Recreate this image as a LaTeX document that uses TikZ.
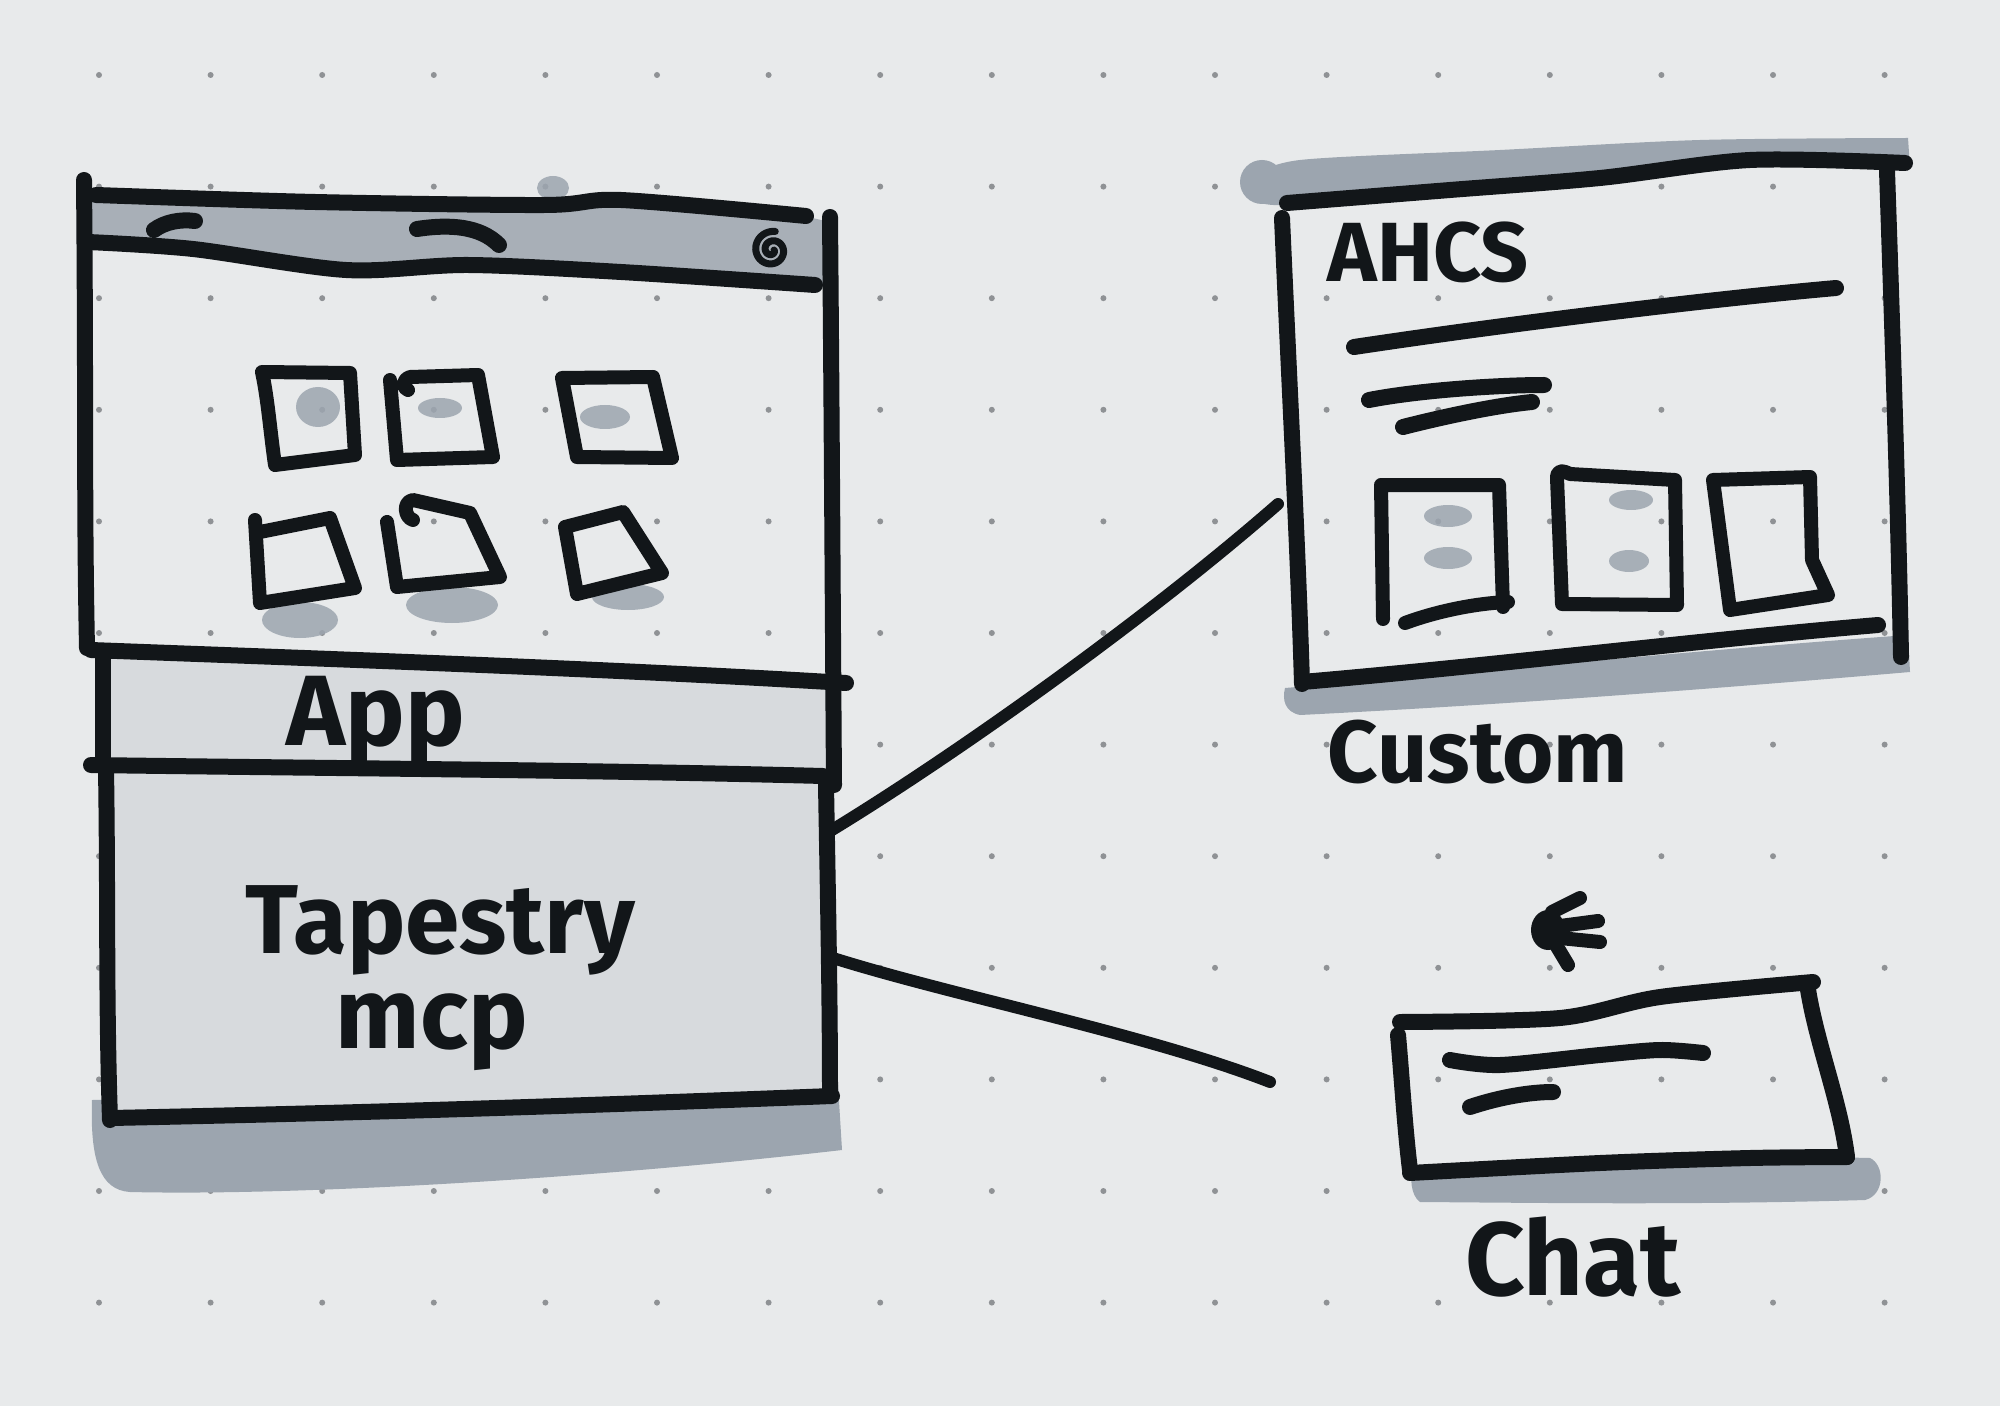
\documentclass[tikz,border=0pt]{standalone}
\usepackage{fontspec}
\setmainfont{Fira Sans}
\definecolor{paper}{HTML}{E8EAEB}
\definecolor{inkc}{HTML}{121619}
\definecolor{barc}{HTML}{A8AFB7}
\definecolor{shadec}{HTML}{9CA5AF}
\definecolor{lightc}{HTML}{D7DADD}
\definecolor{dotc}{HTML}{8F9295}
\tikzset{
  ink/.style={draw=inkc, line width=8pt, line cap=round, line join=round},
  inksq/.style={draw=inkc, line width=7pt, line cap=round, line join=round},
  conn/.style={draw=inkc, line width=6pt, line cap=round},
  shade/.style={fill=shadec},
  blob/.style={fill=shadec, fill opacity=0.85},
  lbl/.style={text=inkc, inner sep=0pt},
}
\begin{document}
\begin{tikzpicture}[x=0.5pt,y=-0.5pt]
\useasboundingbox (0,0) rectangle (2000,1406);
\fill[paper] (0,0) rectangle (2000,1406);
% dot grid
\foreach \i in {0,...,16}{\foreach \j in {0,...,11}{\fill[dotc] ({99+111.6*\i},{75+111.6*\j}) circle (1.5pt);}}

% ================= LEFT WINDOW =================
\fill[blob] (553,188) ellipse (16 and 12);
% title bar fill
\fill[barc] plot[smooth] coordinates {(92,196) (315,203) (545,205) (621,200) (808,217)} -- (830,222) -- (830,287) -- plot[smooth] coordinates {(815,286) (621,273) (468,266) (346,271) (193,249) (88,241)} -- cycle;
% app band fill
\fill[lightc] (95,655) -- (830,680) -- (828,776) -- (95,766) -- cycle;
% tapestry shadow
\fill[shade] (92,1100) -- (838,1085) -- (842,1150) .. controls (600,1178) and (300,1196) .. (130,1192) .. controls (100,1190) and (90,1160) .. cycle;
% tapestry fill
\fill[lightc] (104,770) -- (826,778) -- (830,1097) -- (110,1117) -- cycle;
% frame
\draw[ink] (84,180) .. controls (86,400) and (84,500) .. (87,648);
\draw[ink] (830,217) .. controls (832,450) and (833,650) .. (834,785);
\draw[ink] plot[smooth] coordinates {(96,195) (315,202) (545,205) (621,200) (806,216)};
\draw[ink] plot[smooth] coordinates {(88,242) (193,249) (346,270) (468,265) (621,272) (815,285)};
% title bar icons
\draw[ink] (154,230) .. controls (165,222) and (180,219) .. (195,221);
\draw[ink] (417,229) .. controls (450,224) and (480,226) .. (499,245);
\draw[draw=inkc, line width=3.5pt, line cap=round] plot[domain=0:640, samples=80, smooth] ({772+(2+\x/38)*cos(\x)},{250+(2+\x/38)*sin(\x)});
% squares row 1
\fill[blob] (318,407) ellipse (22 and 20);
\fill[blob] (440,408) ellipse (22 and 10);
\fill[blob] (605,417) ellipse (25 and 12);
\draw[inksq] (262,372) -- (350,373) -- (355,455) -- (275,465) .. controls (270,430) and (268,400) .. cycle;
\draw[inksq] (390,380) -- (397,460) -- (493,457) -- (478,375) -- (410,377) .. controls (402,380) and (402,388) .. (408,390);
\draw[inksq] (562,378) -- (653,377) -- (672,458) -- (577,457) -- cycle;
% squares row 2 with shadows
\fill[blob] (300,620) ellipse (38 and 18);
\fill[blob] (452,605) ellipse (46 and 18);
\fill[blob] (628,597) ellipse (36 and 13);
\draw[inksq] (255,520) -- (260,603) -- (355,588) -- (330,518) -- (260,532);
\draw[inksq] (387,522) -- (397,587) -- (500,577) -- (470,513) -- (413,500) .. controls (402,502) and (405,518) .. (413,520);
\draw[inksq] (565,527) -- (623,512) -- (662,573) -- (577,594) -- cycle;
% app band lines
\draw[ink] (91,650) .. controls (300,658) and (600,668) .. (846,683);
\draw[ink] (103,656) -- (103,765);
\draw[ink] (91,765) .. controls (300,768) and (600,770) .. (823,776);
% tapestry box
\draw[ink] (106,768) .. controls (108,900) and (106,1000) .. (110,1120);
\draw[ink] (826,785) .. controls (828,900) and (830,1000) .. (830,1096);
\draw[ink] (111,1118) .. controls (400,1112) and (600,1105) .. (832,1096);
\node[lbl, font=\fontsize{50}{56}\selectfont\bfseries] (apptxt) at (376,722) {App};
\node[lbl, font=\fontsize{49}{56}\selectfont\bfseries] (taptxt) at (440,930) {Tapestry};
\node[lbl, font=\fontsize{50}{56}\selectfont\bfseries] (mcptxt) at (432,1032) {mcp};

% ================= RIGHT WINDOW (AHCS) =================
\fill[shade] plot[smooth] coordinates {(1250,178) (1300,160) (1500,150) (1700,140) (1908,138)} -- (1910,168) -- plot[smooth] coordinates {(1880,165) (1750,160) (1600,178) (1450,190) (1287,205) (1255,200)} -- cycle;
\fill[shade] (1262,182) circle (11pt);
\fill[shade] (1285,688) .. controls (1500,670) and (1700,650) .. (1908,635) -- (1910,672) .. controls (1700,690) and (1500,705) .. (1300,715) .. controls (1285,712) and (1282,700) .. cycle;
\draw[ink] plot[smooth] coordinates {(1287,203) (1450,190) (1600,178) (1750,160) (1905,163)};
\draw[ink] (1282,218) .. controls (1290,400) and (1298,550) .. (1302,684);
\draw[ink] (1887,171) .. controls (1893,350) and (1898,500) .. (1901,657);
\draw[ink] (1302,682) .. controls (1500,665) and (1700,640) .. (1878,625);
\node[lbl, font=\fontsize{42}{48}\selectfont\bfseries] (ahcstxt) at (1428,252) {AHCS};
\draw[ink] (1354,347) .. controls (1500,325) and (1700,300) .. (1836,288);
\draw[ink] (1369,400) .. controls (1420,390) and (1500,385) .. (1544,385);
\draw[ink] (1403,427) .. controls (1450,415) and (1500,405) .. (1532,402);
% cards
\fill[blob] (1448,516) ellipse (24 and 11);
\fill[blob] (1448,558) ellipse (24 and 11);
\fill[blob] (1631,500) ellipse (22 and 10);
\fill[blob] (1629,561) ellipse (20 and 11);
\draw[inksq] (1383,619) -- (1381,485) -- (1499,485) -- (1503,607);
\draw[inksq] (1405,623) .. controls (1440,610) and (1480,603) .. (1508,602);
\draw[inksq] (1557,478) -- (1562,604) -- (1677,605) -- (1675,480) -- (1570,474) .. controls (1562,470) and (1557,470) .. (1557,478);
\draw[inksq] (1713,480) -- (1810,477) -- (1812,560) -- (1828,595) -- (1730,610) -- cycle;
\node[lbl, font=\fontsize{44}{50}\selectfont\bfseries] (custtxt) at (1478,752) {Custom};

% ================= CHAT =================
% plug-like ink blob
\fill[inkc] (1548,930) ellipse (17 and 20);
\draw[draw=inkc, line width=7pt, line cap=round] (1552,912) -- (1580,898);
\draw[draw=inkc, line width=7pt, line cap=round] (1560,926) -- (1598,921);
\draw[draw=inkc, line width=7pt, line cap=round] (1560,938) -- (1600,942);
\draw[draw=inkc, line width=7pt, line cap=round] (1556,945) -- (1568,965);
\fill[shade] (1413,1168) .. controls (1600,1160) and (1750,1155) .. (1870,1158) .. controls (1885,1165) and (1885,1195) .. (1865,1200) .. controls (1700,1205) and (1550,1203) .. (1420,1202) .. controls (1410,1195) and (1410,1175) .. cycle;
\draw[ink] plot[smooth] coordinates {(1400,1022) (1560,1018) (1660,997) (1813,982)};
\draw[ink] (1398,1035) .. controls (1402,1080) and (1405,1130) .. (1410,1170);
\draw[ink] plot[smooth] coordinates {(1410,1173) (1600,1163) (1750,1158) (1847,1157)};
\draw[ink] (1807,983) .. controls (1815,1040) and (1840,1100) .. (1847,1157);
\draw[ink] plot[smooth] coordinates {(1450,1060) (1500,1065) (1600,1055) (1660,1050) (1703,1053)};
\draw[ink] (1470,1107) .. controls (1500,1097) and (1530,1092) .. (1553,1092);
\node[lbl, font=\fontsize{52}{58}\selectfont\bfseries] (chattxt) at (1573,1257) {Chat};

% ================= CONNECTORS =================
\coordinate (tapE1) at (832,830);
\coordinate (ahcsW) at (1278,504);
\coordinate (tapE2) at (833,958);
\coordinate (chatW) at (1270,1082);
\draw[conn] (tapE1) .. controls (960,752) and (1150,616) .. (ahcsW);
\draw[conn] (tapE2) .. controls (950,995) and (1150,1035) .. (chatW);
\end{tikzpicture}
\end{document}
